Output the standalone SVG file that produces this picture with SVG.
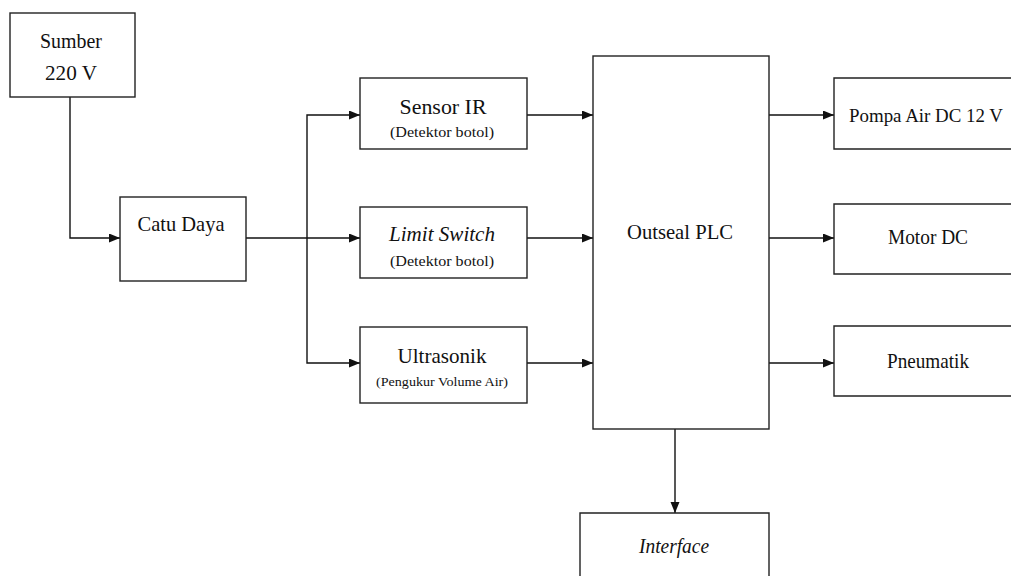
<svg xmlns="http://www.w3.org/2000/svg" width="1011" height="576" viewBox="0 0 1011 576">
<style>
.box{fill:#fff;stroke:#222;stroke-width:1.4}
.t{fill:#111;text-anchor:middle}
.m{font-size:22px}
.s{font-size:15px}
.xs{font-size:13px}
.i{font-style:italic}
.c{fill:none;stroke:#111;stroke-width:1.4}
</style>
<defs>
<marker id="ah" markerUnits="userSpaceOnUse" markerWidth="12" markerHeight="10" refX="11" refY="4.5" orient="auto">
<path d="M0,0 L11,4.5 L0,9 z" fill="#111"/>
</marker>
</defs>
<rect width="1011" height="576" fill="#fff"/>
<g id="connectors">
<path class="c" d="M70,97 V238 H120" marker-end="url(#ah)"/>
<path class="c" d="M246,238 H360" marker-end="url(#ah)"/>
<path class="c" d="M307,238 V115 H360" marker-end="url(#ah)"/>
<path class="c" d="M307,238 V363 H360" marker-end="url(#ah)"/>
<path class="c" d="M527,115 H593" marker-end="url(#ah)"/>
<path class="c" d="M527,238 H593" marker-end="url(#ah)"/>
<path class="c" d="M527,363 H593" marker-end="url(#ah)"/>
<path class="c" d="M769,115 H834" marker-end="url(#ah)"/>
<path class="c" d="M769,238 H834" marker-end="url(#ah)"/>
<path class="c" d="M769,363 H834" marker-end="url(#ah)"/>
<path class="c" d="M675,429 V513" marker-end="url(#ah)"/>
</g>
<g font-family="Liberation Serif, Times New Roman, DejaVu Serif, serif">
<g id="sumber">
<rect class="box" x="10" y="13" width="125" height="84"/>
<text class="t m" x="71" y="48" textLength="62" lengthAdjust="spacingAndGlyphs">Sumber</text>
<text class="t m" x="71" y="80" textLength="52" lengthAdjust="spacingAndGlyphs">220 V</text>
</g>
<g id="catu-daya">
<rect class="box" x="120" y="197" width="126" height="84"/>
<text class="t m" x="181" y="231" textLength="87" lengthAdjust="spacingAndGlyphs">Catu Daya</text>
</g>
<g id="sensor-ir">
<rect class="box" x="360" y="78" width="167" height="71"/>
<text class="t m" x="443" y="114" textLength="87" lengthAdjust="spacingAndGlyphs">Sensor IR</text>
<text class="t s" x="442" y="137" textLength="104" lengthAdjust="spacingAndGlyphs">(Detektor botol)</text>
</g>
<g id="limit-switch">
<rect class="box" x="360" y="207" width="167" height="71"/>
<text class="t m i" x="442" y="241" textLength="106" lengthAdjust="spacingAndGlyphs">Limit Switch</text>
<text class="t s" x="442" y="266" textLength="104" lengthAdjust="spacingAndGlyphs">(Detektor botol)</text>
</g>
<g id="ultrasonik">
<rect class="box" x="360" y="327" width="167" height="76"/>
<text class="t m" x="442" y="363" textLength="89" lengthAdjust="spacingAndGlyphs">Ultrasonik</text>
<text class="t xs" x="442" y="386" textLength="132" lengthAdjust="spacingAndGlyphs">(Pengukur Volume Air)</text>
</g>
<g id="outseal-plc">
<rect class="box" x="593" y="56" width="176" height="373"/>
<text class="t m" x="680" y="239" textLength="106" lengthAdjust="spacingAndGlyphs">Outseal PLC</text>
</g>
<g id="pompa">
<path class="box" d="M1011,78 H834 V149 H1011"/>
<text class="t" font-size="18" x="926" y="122" textLength="154" lengthAdjust="spacingAndGlyphs">Pompa Air DC 12 V</text>
</g>
<g id="motor-dc">
<path class="box" d="M1011,204 H834 V274 H1011"/>
<text class="t m" x="928" y="244" textLength="80" lengthAdjust="spacingAndGlyphs">Motor DC</text>
</g>
<g id="pneumatik">
<path class="box" d="M1011,326 H834 V396 H1011"/>
<text class="t m" x="928" y="368" textLength="82" lengthAdjust="spacingAndGlyphs">Pneumatik</text>
</g>
<g id="interface">
<path class="box" d="M580,576 V513 H769 V576"/>
<text class="t m i" x="674" y="553" textLength="70" lengthAdjust="spacingAndGlyphs">Interface</text>
</g>
</g>
</svg>
